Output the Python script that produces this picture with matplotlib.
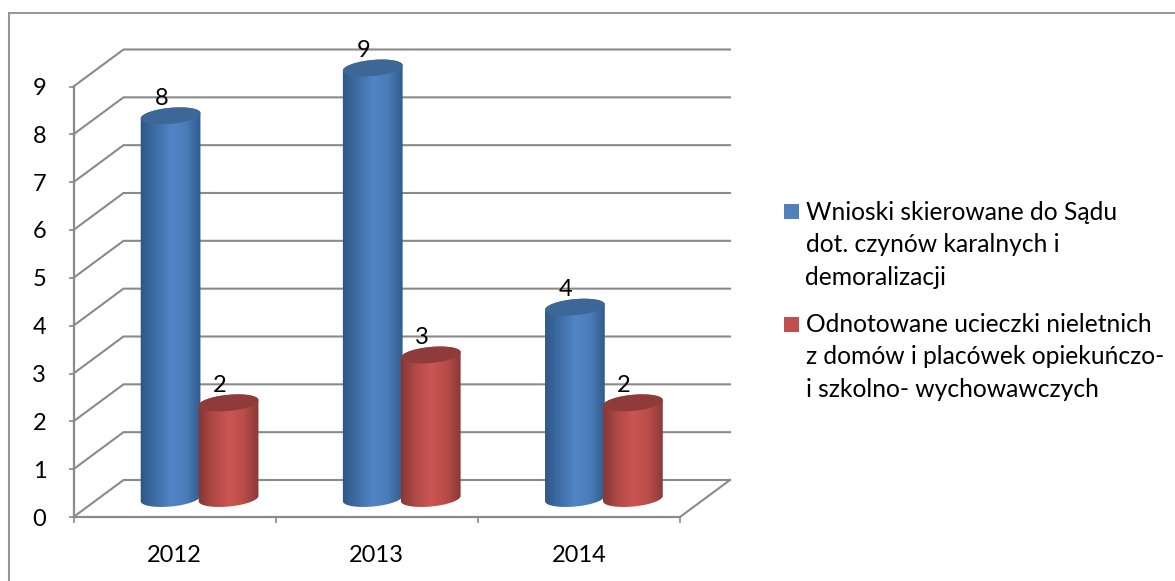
#!/usr/bin/python
import matplotlib
matplotlib.use('Agg')
import matplotlib.pyplot as plt
import numpy as np
from matplotlib.colors import LinearSegmentedColormap
from matplotlib.lines import Line2D
from matplotlib.patches import PathPatch, Rectangle
from matplotlib.path import Path

plt.rcParams['font.family'] = ['Lato', 'DejaVu Sans']

years = ['2012', '2013', '2014']
wnioski = [8, 9, 4]
ucieczki = [2, 3, 2]
y_ticks = [0, 1, 2, 3, 4, 5, 6, 7, 8, 9]
legend_wnioski = ['Wnioski skierowane do Sądu', 'dot. czynów karalnych i', 'demoralizacji']
legend_ucieczki = ['Odnotowane ucieczki nieletnich', 'z domów i placówek opiekuńczo-', 'i szkolno- wychowawczych']

W, H = 1175, 581
GRAY = '#8a8a8a'
ax_left, ax_right, ax_top, ax_bottom = 73.5, 680, 86.5, 517
px_x = (ax_right - ax_left) / 3.0   # pixels per category
px_y = (ax_bottom - ax_top) / 9.0   # pixels per unit
depth_x = 50.0 / px_x
depth_y = 37.0 / px_y


def ellipse_pts(cx, cy, t):
	# tilted ellipse, pixel radii turned into data units
	a, b, tilt = 30.0, 8.0, np.radians(5.5)
	ex = a * np.cos(t) * np.cos(tilt) - b * np.sin(t) * np.sin(tilt)
	ey = a * np.cos(t) * np.sin(tilt) + b * np.sin(t) * np.cos(tilt)
	return np.column_stack((cx + ex / px_x, cy + ey / px_y))


def closed_path(pts):
	codes = [Path.MOVETO] + [Path.LINETO] * (len(pts) - 2) + [Path.CLOSEPOLY]
	return Path(pts, codes)


def drawCylinder(ax, x, value, colors, top_color, z):
	cy_top = value + depth_y / 2
	cy_base = depth_y / 2
	t = np.linspace(0, 2 * np.pi, 120)
	lower = ellipse_pts(x, cy_base, np.linspace(np.pi, 2 * np.pi, 60))
	upper = ellipse_pts(x, cy_top, np.linspace(0, np.pi, 60))
	body = closed_path(np.vstack((lower, upper, lower[:1])))
	cmap = LinearSegmentedColormap.from_list('cyl', colors)
	half = 31.0 / px_x
	im = ax.imshow(np.linspace(0, 1, 128).reshape(1, -1), cmap=cmap, aspect='auto',
		extent=(x - half, x + half, 0, value + depth_y), zorder=z)
	clip = PathPatch(body, transform=ax.transData, facecolor='none', edgecolor='none')
	ax.add_patch(clip)
	im.set_clip_path(clip)
	im.set_clip_box(ax.figure.bbox)
	top = closed_path(ellipse_pts(x, cy_top, t))
	ax.add_patch(PathPatch(top, facecolor=top_color, edgecolor='none', zorder=z + 0.1, clip_on=False))


def drawChart():
	fig = plt.figure(figsize=(W / 100.0, H / 100.0), dpi=100)
	# frame of the chart runs off the picture at right and bottom
	fig.add_artist(Line2D([9 / W, 1], [1 - 13 / H, 1 - 13 / H], color='#8f8f8f', lw=1.3, transform=fig.transFigure))
	fig.add_artist(Line2D([9 / W, 9 / W], [1 - 12.5 / H, 0], color='#969696', lw=1.5, transform=fig.transFigure))
	ax = fig.add_axes([ax_left / W, 1 - ax_bottom / H, (ax_right - ax_left) / W, (ax_bottom - ax_top) / H])
	ax.patch.set_alpha(0)
	x0, x1 = -0.5, 2.5
	for v in y_ticks:
		ax.plot([x0, x0 + depth_x, x1 + depth_x], [v, v + depth_y, v + depth_y], color=GRAY, lw=1.5,
			clip_on=False, zorder=1, solid_joinstyle='miter')
	ax.plot([x1, x1 + depth_x], [0, depth_y], color=GRAY, lw=1.5, clip_on=False, zorder=1)

	blue = ['#2d5685', '#3f6ea6', '#5085c5', '#4a7cb8', '#2f5a8a']
	red = ['#843634', '#b04a47', '#cc5552', '#b84c49', '#863836']
	shift = depth_x / 2
	gap = 29.0 / px_x
	for i in range(len(years)):
		xb = i + shift - gap
		xr = i + shift + gap
		drawCylinder(ax, xb, wnioski[i], blue, '#3d6796', 3 + i)
		drawCylinder(ax, xr, ucieczki[i], red, '#8f3b39', 3.5 + i)
		ax.text(xb - 9 / px_x, wnioski[i] + depth_y / 2 + 11 / px_y, str(wnioski[i]), fontsize=17,
			ha='center', va='baseline', zorder=9, clip_on=False)
		ax.text(xr - 9 / px_x, ucieczki[i] + depth_y / 2 + 11 / px_y, str(ucieczki[i]), fontsize=17,
			ha='center', va='baseline', zorder=9)

	ax.set_xlim(x0, x1)
	ax.set_ylim(0, 9)
	ax.set_yticks(y_ticks)
	ax.set_xticks([-0.5, 0.5, 1.5, 2.5])
	ax.set_xticklabels([])
	ax.set_xticks(range(len(years)), labels=years, minor=True)
	ax.tick_params(axis='x', which='major', length=4.5, width=1.2, color=GRAY)
	ax.tick_params(axis='x', which='minor', length=0, pad=20, labelsize=17)
	ax.tick_params(axis='y', length=3.6, width=1.2, color=GRAY, pad=16, labelsize=17)
	for s in ['top', 'right']:
		ax.spines[s].set_visible(False)
	for s in ['left', 'bottom']:
		ax.spines[s].set_color(GRAY)
		ax.spines[s].set_linewidth(1.6)

	# legend written line by line, it wraps like the original
	blocks = [(legend_wnioski, '#4f81bd', 204, 220), (legend_ucieczki, '#c0504d', 317, 332)]
	for lines, col, box_y, base in blocks:
		fig.patches.append(Rectangle((784 / W, 1 - (box_y + 15) / H), 15 / W, 15 / H, transform=fig.transFigure,
			facecolor=col, edgecolor='none', figure=fig))
		for n, line in enumerate(lines):
			fig.text(805.5 / W, 1 - (base + n * 32.5) / H, line, fontsize=17.7, va='baseline', ha='left')
	fig.savefig('out.png', dpi=100)


if __name__ == '__main__':
	drawChart()
